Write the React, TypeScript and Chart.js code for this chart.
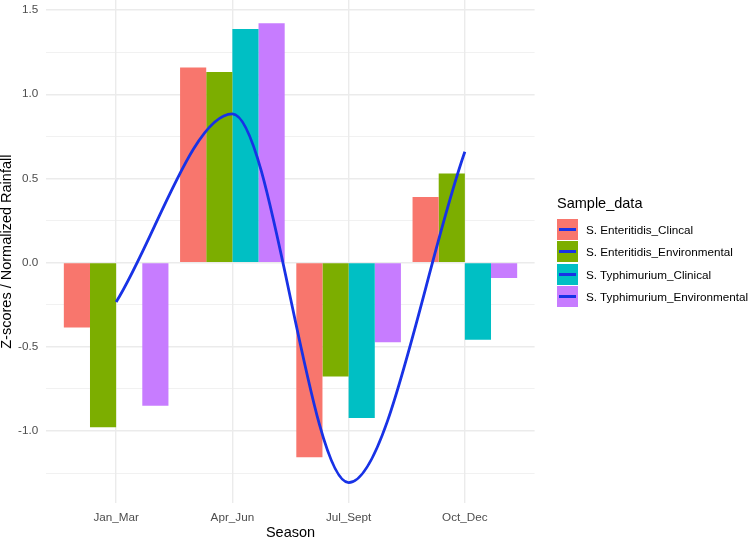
import React, { useEffect, useRef } from "react";
import { Chart, registerables } from "chart.js";

Chart.register(...registerables);

// ---------- data ----------
const SEASONS = ["Jan_Mar", "Apr_Jun", "Jul_Sept", "Oct_Dec"];
const SEASON_POS = [1, 2, 3, 4];

const SERIES_NAMES = [
  "S. Enteritidis_Clincal",
  "S. Enteritidis_Environmental",
  "S. Typhimurium_Clinical",
  "S. Typhimurium_Environmental",
];
const SERIES_COLORS = ["#F8766D", "#7CAE00", "#00BFC4", "#C77CFF"];

const SE_CLINICAL = [-0.386, 1.159, -1.156, 0.389];
const SE_ENVIRONMENTAL = [-0.978, 1.133, -0.677, 0.529];
const ST_CLINICAL: (number | null)[] = [null, 1.387, -0.923, -0.459];
const ST_ENVIRONMENTAL = [-0.851, 1.422, -0.473, -0.091];

const RAINFALL = [-0.234, 0.884, -1.307, 0.658];

const Y_TICKS = [-1.25, -1, -0.75, -0.5, -0.25, 0, 0.25, 0.5, 0.75, 1, 1.25, 1.5];
const Y_LABELED = [-1, -0.5, 0, 0.5, 1, 1.5];

const LINE_COLOR = "#1832E6";
const FONT = "'Liberation Sans', Arial, Helvetica, sans-serif";

const isMajor = (v: number | undefined) =>
  v !== undefined && Y_LABELED.some((m) => Math.abs(m - v) < 1e-9);

export default function App() {
  const canvasRef = useRef<HTMLCanvasElement | null>(null);

  useEffect(() => {
    document.body.style.margin = "0";
    const canvas = canvasRef.current;
    if (!canvas) return;
    Chart.defaults.font.family = FONT;

    const seriesValues = [SE_CLINICAL, SE_ENVIRONMENTAL, ST_CLINICAL, ST_ENVIRONMENTAL];

    const barSets = seriesValues.map((vals, i) => ({
      type: "bar" as const,
      label: SERIES_NAMES[i],
      data: vals.map((v, j) => ({ x: SEASON_POS[j], y: v })),
      backgroundColor: SERIES_COLORS[i],
      borderWidth: 0,
      categoryPercentage: 0.9,
      barPercentage: 1.0,
      order: 1,
    }));

    const lineSet = {
      type: "line" as const,
      label: "Rainfall",
      data: RAINFALL.map((v, j) => ({ x: SEASON_POS[j], y: v })),
      borderColor: LINE_COLOR,
      borderWidth: 2.8,
      pointRadius: 0,
      fill: false,
      cubicInterpolationMode: "monotone" as const,
      order: 0,
    };

    const chart = new Chart(canvas, {
      type: "bar",
      data: { datasets: [...barSets, lineSet] as any },
      options: {
        animation: false,
        responsive: false,
        devicePixelRatio: 1,
        layout: { padding: { left: 0, top: 0, right: 215.4, bottom: 0 } },
        plugins: {
          legend: { display: false },
          tooltip: { enabled: false },
        },
        scales: {
          x: {
            type: "linear",
            min: 0.4,
            max: 4.6,
            bounds: "data",
            offset: false,
            grid: {
              offset: false,
              color: "#EBEBEB",
              lineWidth: 1.4,
              drawTicks: false,
            },
            border: { display: false },
            afterBuildTicks: (scale: any) => {
              scale.ticks = SEASON_POS.map((v) => ({ value: v }));
            },
            afterFit: (scale: any) => {
              scale.height = 35.7;
              scale.paddingLeft = 0;
              scale.paddingRight = 0;
            },
            ticks: {
              autoSkip: false,
              maxRotation: 0,
              padding: 7.2,
              color: "#4D4D4D",
              font: { size: 11.7, lineHeight: 1.2 },
              callback: (v: any) => {
                const idx = SEASON_POS.indexOf(Number(v));
                return idx >= 0 ? SEASONS[idx] : "";
              },
            },
            title: {
              display: true,
              text: "Season",
              color: "#000000",
              font: { size: 14.5, lineHeight: 0.85 },
              padding: 0,
            },
          },
          y: {
            type: "linear",
            min: -1.43,
            max: 1.56,
            bounds: "data",
            grid: {
              color: "#EBEBEB",
              lineWidth: (ctx: any) => (isMajor(ctx.tick?.value) ? 1.4 : 0.7),
              drawTicks: false,
            },
            border: { display: false },
            afterBuildTicks: (scale: any) => {
              scale.ticks = Y_TICKS.map((v) => ({ value: v }));
            },
            afterFit: (scale: any) => {
              scale.width = 46.4;
              scale.paddingTop = 0;
              scale.paddingBottom = 0;
            },
            ticks: {
              autoSkip: false,
              padding: 8.2,
              color: "#4D4D4D",
              font: { size: 11.7, lineHeight: 1.2 },
              callback: (v: any) => (isMajor(Number(v)) ? Number(v).toFixed(1) : ""),
            },
            title: {
              display: true,
              text: "Z-scores / Normalized Rainfall",
              color: "#000000",
              font: { size: 14.5, lineHeight: 1 },
              padding: 0,
            },
          },
        },
      } as any,
    });

    return () => {
      chart.destroy();
    };
  }, []);

  const keyTops = [219, 241, 264, 286];

  return (
    <div
      style={{
        position: "relative",
        width: 750,
        height: 539,
        background: "#ffffff",
        overflow: "hidden",
        fontFamily: FONT,
      }}
    >
      <canvas
        ref={canvasRef}
        width={750}
        height={539}
        style={{ display: "block", width: 750, height: 539 }}
      />
      <div
        style={{
          position: "absolute",
          left: 557,
          top: 195,
          fontSize: 14.5,
          lineHeight: "17px",
          color: "#000",
          whiteSpace: "nowrap",
        }}
      >
        Sample_data
      </div>
      {SERIES_NAMES.map((name, i) => (
        <React.Fragment key={name}>
          <div
            style={{
              position: "absolute",
              left: 557,
              top: keyTops[i],
              width: 21,
              height: 21,
              background: SERIES_COLORS[i],
            }}
          >
            <div
              style={{
                position: "absolute",
                left: 2,
                width: 17,
                top: 9,
                height: 3,
                background: LINE_COLOR,
              }}
            />
          </div>
          <div
            style={{
              position: "absolute",
              left: 586,
              top: keyTops[i],
              height: 21,
              lineHeight: "21px",
              fontSize: 11.7,
              color: "#000",
              whiteSpace: "nowrap",
            }}
          >
            {name}
          </div>
        </React.Fragment>
      ))}
    </div>
  );
}
